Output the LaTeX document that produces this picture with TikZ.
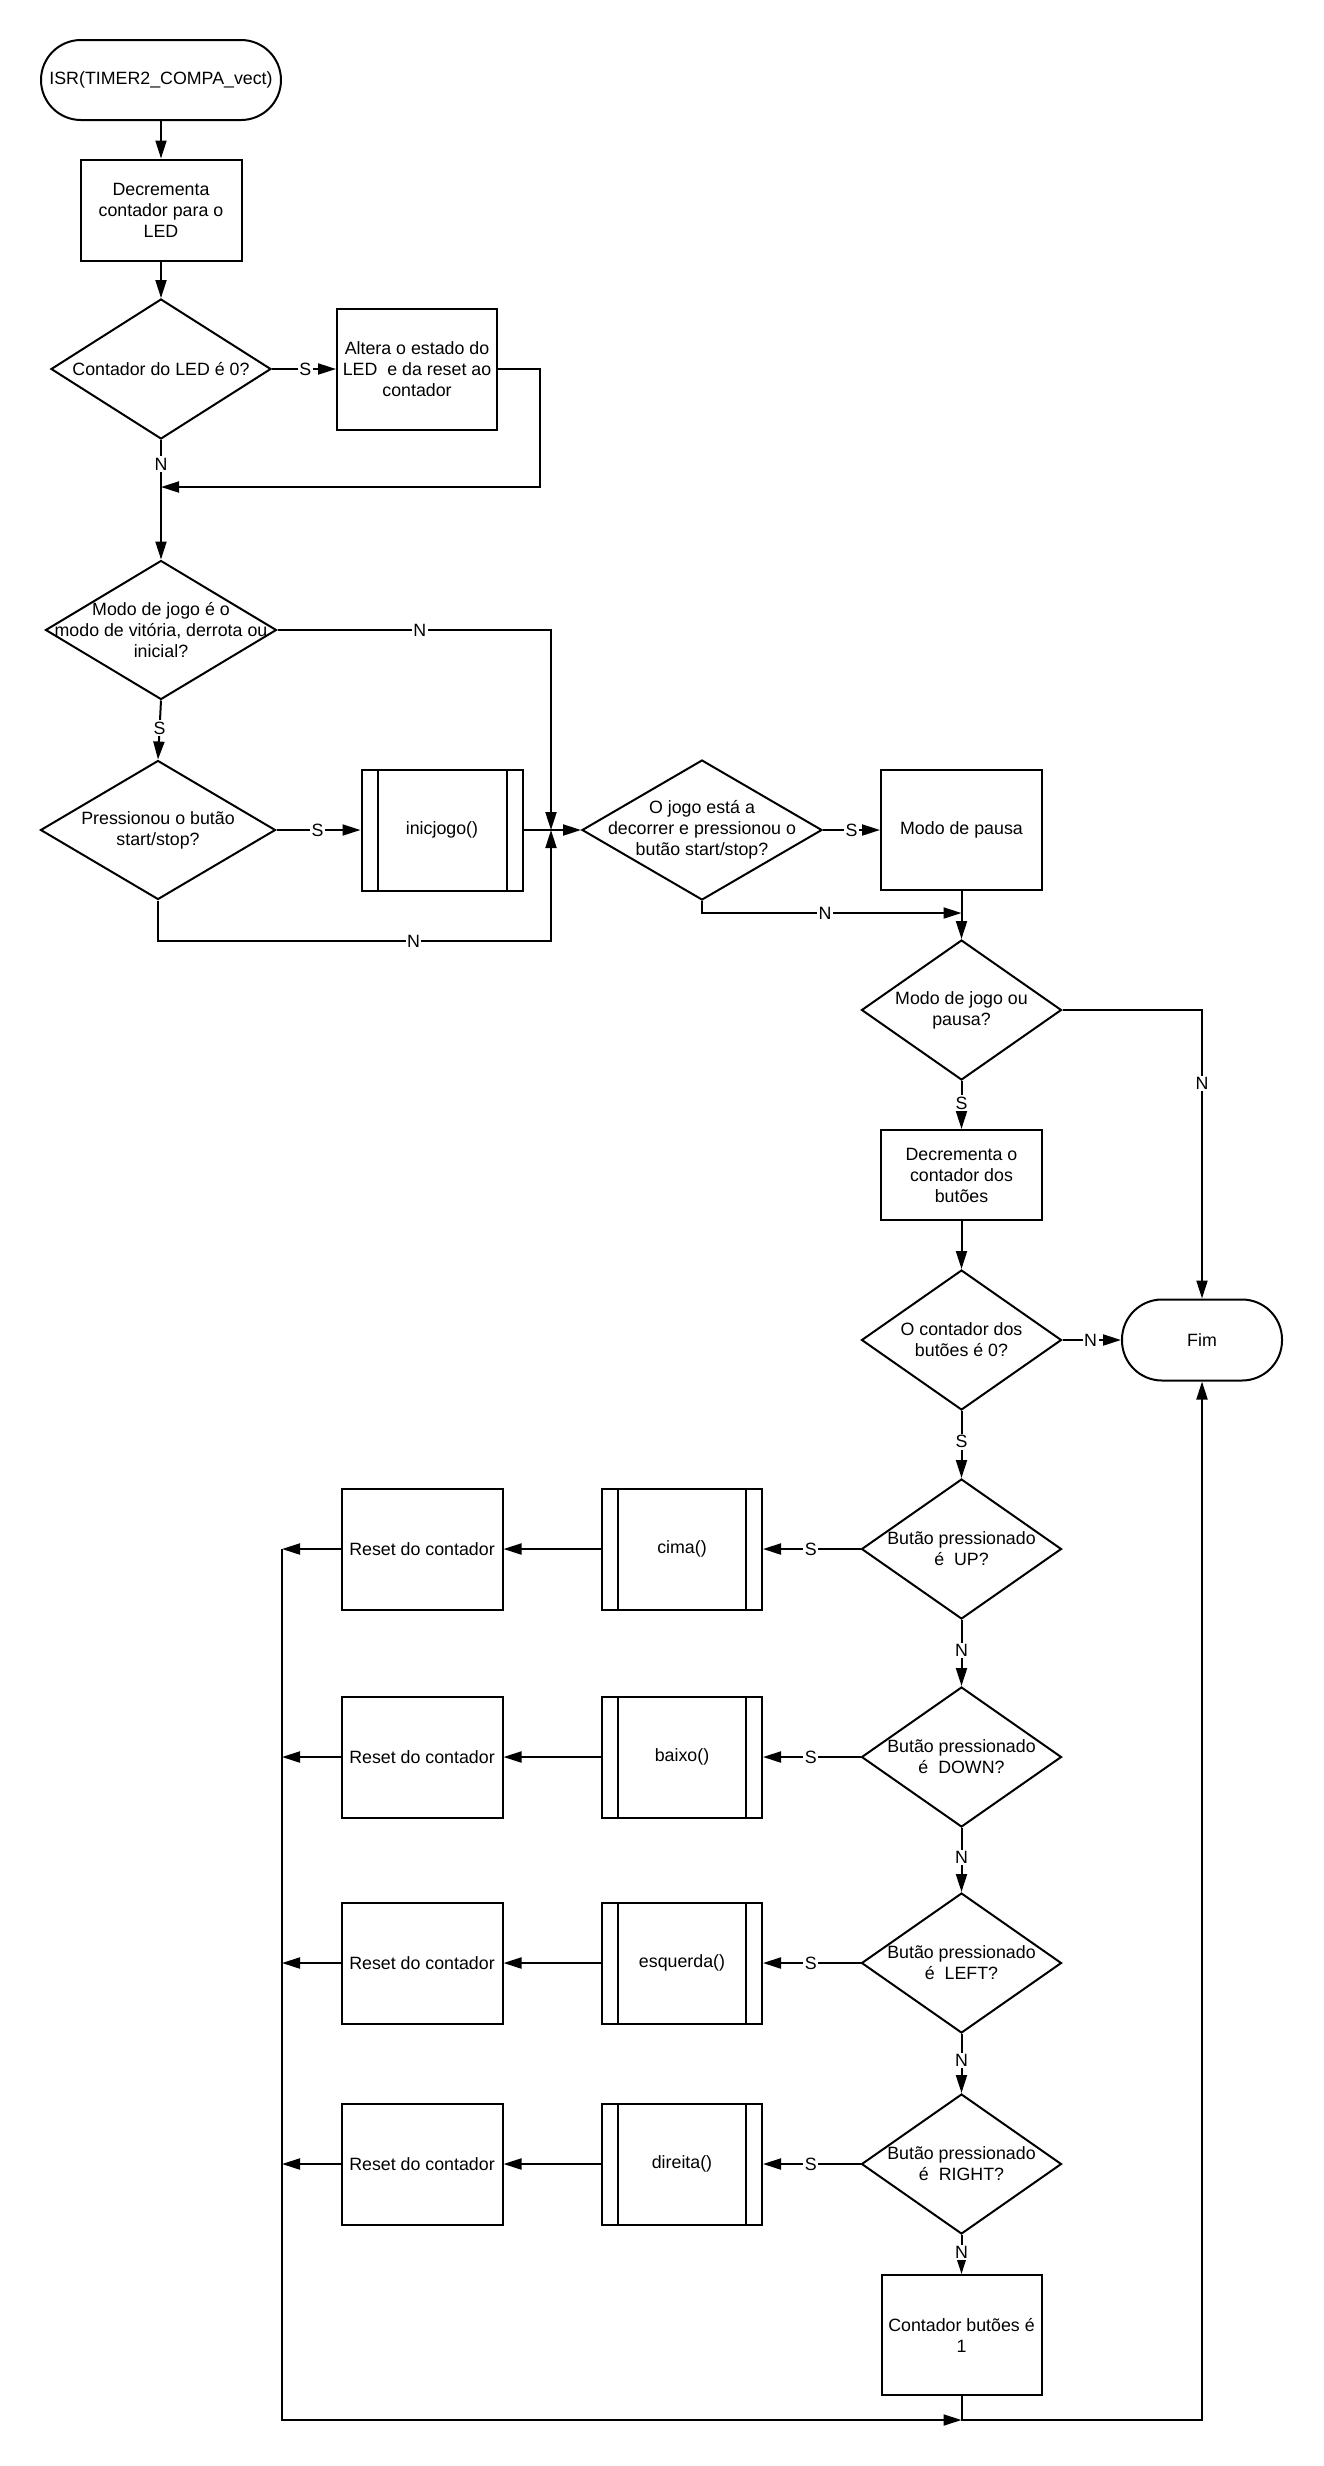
\documentclass[tikz,border=0pt]{standalone}
\usepackage{fontspec}
\setmainfont{Liberation Sans}
\usetikzlibrary{arrows.meta,shapes.geometric}
\begin{document}
\begin{tikzpicture}[x=1pt,y=-1pt,
  font=\fontsize{17.8pt}{21pt}\selectfont,
  box/.style={draw, line width=2pt, rectangle, inner sep=0pt, align=center, minimum width=161pt, minimum height=121pt},
  sub/.style={box, path picture={
      \draw[line width=2pt] ([xshift=16pt]path picture bounding box.north west) -- ([xshift=16pt]path picture bounding box.south west);
      \draw[line width=2pt] ([xshift=-16pt]path picture bounding box.north east) -- ([xshift=-16pt]path picture bounding box.south east);}},
  dec/.style={draw, line width=2pt, diamond, inner sep=0pt, minimum width=200pt, minimum height=140pt},
  term/.style={draw, line width=2pt, rectangle, rounded corners=40pt, inner sep=0pt, align=center, minimum height=80pt},
  lbl/.style={fill=white, inner sep=1.5pt},
  ln/.style={line width=2pt},
  arr/.style={line width=2pt, -{Triangle[length=18pt,width=11pt]}}
]
\path[fill=white] (0,0) rectangle (1323,2466);
\useasboundingbox (0,0) rectangle (1323,2466);

% left column
\node[term, minimum width=240pt] (start) at (161,80) {ISR(TIMER2\_COMPA\_vect)};
\node[box, minimum height=101pt] (dec1) at (161,210) {Decrementa\\contador para o\\LED};
\node[dec, minimum width=220pt, label={[align=center]center:Contador do LED é 0?}] (d1) at (161,369) {};
\node[box, minimum width=160pt] (alt) at (417,369) {Altera o estado do\\LED\ \ e da reset ao\\contador};
\coordinate (m1) at (161,487);
\node[dec, minimum width=231pt, minimum height=139pt, label={[align=center]center:Modo de jogo é o\\modo de vitória, derrota ou\\inicial?}] (d2) at (161,630) {};
\node[dec, minimum width=235pt, minimum height=139pt, label={[align=center]center:Pressionou o butão\\start/stop?}] (d3) at (158,830) {};
\node[sub] (inic) at (442,830) {inicjogo()};
\coordinate (j) at (551,830);
\coordinate (jb) at (551,941);

% middle/right column
\node[dec, minimum width=240pt, label={[align=center]center:O jogo está a\\decorrer e pressionou o\\butão start/stop?}] (d4) at (702,830) {};
\node[box, minimum height=120pt] (pausa) at (961.5,830) {Modo de pausa};
\coordinate (k) at (961.5,913);
\node[dec, label={[align=center]center:Modo de jogo ou\\pausa?}] (d5) at (961.5,1010) {};
\node[box, minimum height=90pt] (dec2) at (961.5,1175) {Decrementa o\\contador dos\\butões};
\node[dec, label={[align=center]center:O contador dos\\butões é 0?}] (d6) at (961.5,1340) {};
\node[term, minimum width=160pt, minimum height=81pt] (fim) at (1202,1340) {Fim};

% button rows
\node[dec, label={[align=center]center:Butão pressionado\\é\ \ UP?}] (d7) at (961.5,1549) {};
\node[sub, minimum width=160pt] (cima) at (682,1549) {cima()};
\node[box] (r1) at (422,1549) {Reset do contador};

\node[dec, label={[align=center]center:Butão pressionado\\é\ \ DOWN?}] (d8) at (961.5,1757) {};
\node[sub, minimum width=160pt] (baixo) at (682,1757) {baixo()};
\node[box] (r2) at (422,1757) {Reset do contador};

\node[dec, label={[align=center]center:Butão pressionado\\é\ \ LEFT?}] (d9) at (961.5,1963) {};
\node[sub, minimum width=160pt] (esq) at (682,1963) {esquerda()};
\node[box] (r3) at (422,1963) {Reset do contador};

\node[dec, label={[align=center]center:Butão pressionado\\é\ \ RIGHT?}] (d10) at (961.5,2164) {};
\node[sub, minimum width=160pt] (dir) at (682,2164) {direita()};
\node[box] (r4) at (422,2164) {Reset do contador};

\node[box, minimum width=160pt, minimum height=120pt] (cnt) at (961.5,2335) {Contador butões é\\1};

\coordinate (ct) at (282,1549);
\coordinate (cb) at (282,2420);
\coordinate (cm) at (961.5,2420);

% connectors
\draw[arr] (start.south) -- (dec1.north);
\draw[arr] (dec1.south) -- (d1.north);
\draw[arr] (d1.east) -- node[lbl,pos=0.52]{S} (alt.west);
\draw[arr] (alt.east) -- ++(41.5,0) |- (m1);
\draw[arr] (d1.south) -- node[lbl,pos=0.2]{N} (d2.north);
\draw[arr] (d2.east) -- node[lbl,pos=0.52]{N} (j |- d2.east) -- (j);
\draw[arr] (d2.south) -- node[lbl,pos=0.47]{S} (d3.north);
\draw[arr] (d3.east) -- node[lbl,pos=0.49]{S} (inic.west);
\draw[arr] (d3.south) |- node[lbl,pos=0.825]{N} (jb) -- (j);
\draw[arr] (inic.east) -- (d4.west);

\draw[arr] (d4.east) -- node[lbl,pos=0.5]{S} (pausa.west);
\draw[arr] (d4.south) |- node[lbl,pos=0.737]{N} (k);
\draw[arr] (pausa.south) -- (d5.north);
\draw[arr] (d5.east) -| node[lbl,pos=0.627]{N} (fim.north);
\draw[arr] (d5.south) -- node[lbl,pos=0.46]{S} (dec2.north);
\draw[arr] (dec2.south) -- (d6.north);
\draw[arr] (d6.east) -- node[lbl,pos=0.48]{N} (fim.west);
\draw[arr] (d6.south) -- node[lbl,pos=0.46]{S} (d7.north);

\draw[arr] (d7.west) -- node[lbl,pos=0.51]{S} (cima.east);
\draw[arr] (cima.west) -- (r1.east);
\draw[arr] (r1.west) -- (r1.west -| ct);
\draw[arr] (d7.south) -- node[lbl,pos=0.46]{N} (d8.north);

\draw[arr] (d8.west) -- node[lbl,pos=0.51]{S} (baixo.east);
\draw[arr] (baixo.west) -- (r2.east);
\draw[arr] (r2.west) -- (r2.west -| ct);
\draw[arr] (d8.south) -- node[lbl,pos=0.46]{N} (d9.north);

\draw[arr] (d9.west) -- node[lbl,pos=0.51]{S} (esq.east);
\draw[arr] (esq.west) -- (r3.east);
\draw[arr] (r3.west) -- (r3.west -| ct);
\draw[arr] (d9.south) -- node[lbl,pos=0.45]{N} (d10.north);

\draw[arr] (d10.west) -- node[lbl,pos=0.51]{S} (dir.east);
\draw[arr] (dir.west) -- (r4.east);
\draw[arr] (r4.west) -- (r4.west -| ct);
\draw[arr] (d10.south) -- node[lbl,pos=0.44]{N} (cnt.north);

\draw[arr] (ct) -- (cb) -- (cm);
\draw[arr] (cnt.south) -- (cm) -| (fim.south);
\end{tikzpicture}
\end{document}
